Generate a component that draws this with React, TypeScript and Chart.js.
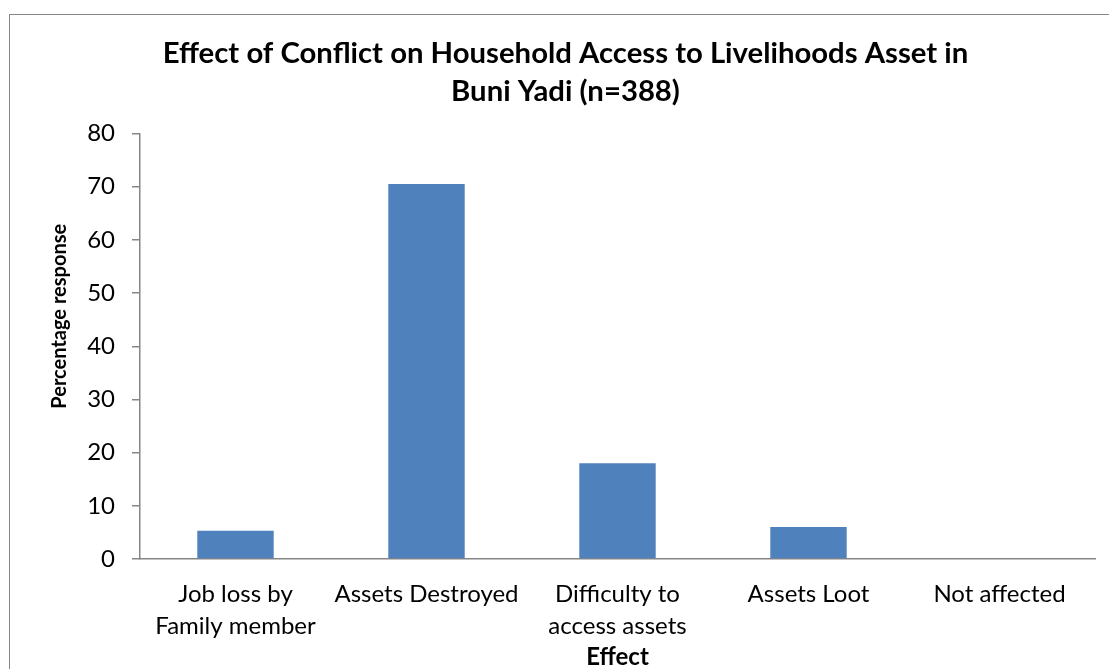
import React, { useEffect, useRef } from "react";
import { Chart, registerables } from "chart.js";

Chart.register(...registerables);

const categories: (string | string[])[] = [
  ["Job loss by", "Family member"],
  "Assets Destroyed",
  ["Difficulty to", "access assets"],
  "Assets Loot",
  "Not affected",
];
const percentages = [5.3, 70.5, 18.0, 6.0, 0];
const titleLines = [
  "Effect of Conflict on Household Access to Livelihoods Asset in",
  "Buni Yadi (n=388)",
];
const yAxisTitle = "Percentage response";
const xAxisTitle = "Effect";
const yMin = 0;
const yMax = 80;
const yStep = 10;

const FONT = "Lato, 'Open Sans', sans-serif";

// Draws the rotated y-axis title, placed a little above the middle of the axis as in the original.
const yTitlePlugin = {
  id: "yTitlePlugin",
  afterDraw(chart: any) {
    const { ctx, chartArea } = chart;
    const cx = chartArea.left - 80;
    const cy = (chartArea.top + chartArea.bottom) / 2 - 30;
    ctx.save();
    ctx.translate(cx, cy);
    ctx.rotate(-Math.PI / 2);
    ctx.font = `bold 20px ${FONT}`;
    ctx.fillStyle = "#000";
    ctx.textAlign = "center";
    ctx.textBaseline = "middle";
    ctx.fillText(yAxisTitle, 0, 0);
    ctx.restore();
  },
};

export default function App() {
  const ref = useRef<HTMLCanvasElement | null>(null);

  useEffect(() => {
    if (!ref.current) return;
    const chart = new Chart(ref.current, {
      type: "bar",
      data: {
        labels: categories,
        datasets: [
          {
            data: percentages,
            backgroundColor: "#4F81BD",
            borderWidth: 0,
            categoryPercentage: 0.8,
            barPercentage: 0.5,
          },
        ],
      },
      plugins: [yTitlePlugin],
      options: {
        responsive: false,
        animation: false,
        layout: { padding: { left: 26, right: 14, top: 0, bottom: 0 } },
        plugins: {
          legend: { display: false },
          tooltip: { enabled: false },
          title: {
            display: true,
            text: titleLines,
            color: "#000",
            font: { family: FONT, size: 29.3, weight: "bold", lineHeight: "37.5px" as any },
            padding: { top: 20, bottom: 23.5 },
          },
        },
        scales: {
          x: {
            grid: { display: false, drawTicks: false },
            border: { display: true, color: "#868686", width: 1.5 },
            ticks: {
              color: "#000",
              font: { family: FONT, size: 24, lineHeight: "32px" as any },
              padding: 19,
              maxRotation: 0,
              autoSkip: false,
            },
            title: {
              display: true,
              text: xAxisTitle,
              color: "#000",
              font: { family: FONT, size: 24, weight: "bold", lineHeight: "24px" as any },
              padding: { top: 0, bottom: 0 },
            },
            afterFit: (s: any) => {
              s.height = 110;
            },
          },
          y: {
            min: yMin,
            max: yMax,
            grid: {
              display: true,
              drawOnChartArea: false,
              drawTicks: true,
              tickLength: 8,
              color: "#868686",
              lineWidth: 1.5,
            },
            border: { display: true, color: "#868686", width: 1.5 },
            ticks: {
              stepSize: yStep,
              color: "#000",
              font: { family: FONT, size: 24 },
              padding: 17,
            },
            title: { display: false },
            afterFit: (s: any) => {
              s.width = 104;
            },
          },
        },
      },
    });
    return () => chart.destroy();
  }, []);

  return (
    <div
      style={{
        position: "fixed",
        left: 0,
        top: 0,
        width: "100vw",
        height: "100vh",
        overflow: "hidden",
        background: "#fff",
      }}
    >
      <div
        style={{
          position: "absolute",
          left: 9,
          top: 14,
          width: 1101,
          height: 656,
          border: "1px solid #868686",
          boxSizing: "border-box",
          background: "#fff",
        }}
      >
        <canvas ref={ref} width={1099} height={654} style={{ display: "block", width: 1099, height: 654 }} />
      </div>
    </div>
  );
}
